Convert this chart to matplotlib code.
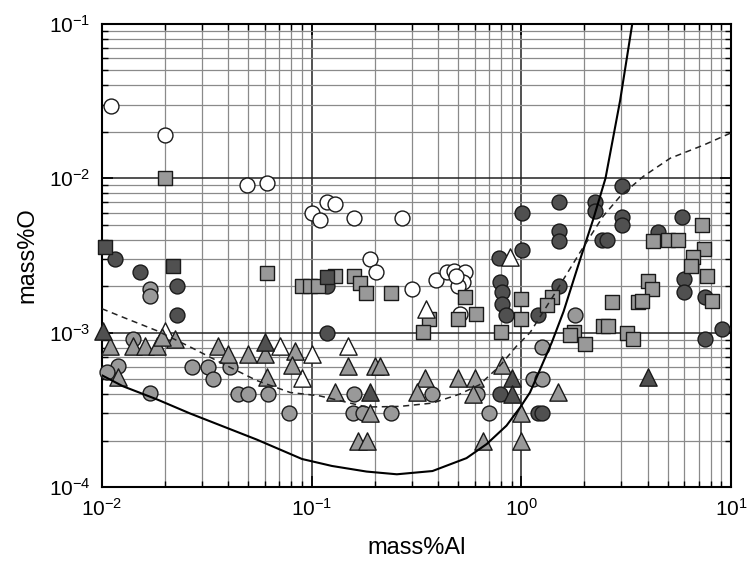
import numpy as np
import matplotlib
matplotlib.use("Agg")
import matplotlib.pyplot as plt
from matplotlib.ticker import LogLocator, NullFormatter

plt.rcParams['font.family'] = ['Liberation Sans', 'DejaVu Sans']
plt.rcParams['mathtext.fontset'] = 'custom'
plt.rcParams['mathtext.rm'] = 'Liberation Sans'
plt.rcParams['mathtext.it'] = 'Liberation Sans'
plt.rcParams['mathtext.default'] = 'regular'

# ---- data (mass%Al, mass%O) ----
white_circle_al = [0.011, 0.020, 0.049, 0.061, 0.100, 0.110, 0.119, 0.130, 0.159, 0.269,
                   0.189, 0.202, 0.300, 0.394, 0.440, 0.480, 0.536, 0.525, 0.497, 0.508, 0.490]
white_circle_o = [0.0294, 0.0191, 0.0090, 0.0093, 0.0060, 0.0054, 0.0070, 0.0068, 0.0055, 0.0055,
                  0.0030, 0.00247, 0.00192, 0.0022, 0.00247, 0.00251, 0.00247, 0.00213, 0.0020, 0.00133, 0.00233]

dark_circle_al = [0.0115, 0.0152, 0.0228, 0.0228, 0.119, 0.119, 1.01, 1.52, 1.52, 1.52,
                  2.25, 2.25, 3.03, 3.03, 3.03, 2.43, 2.55, 1.01, 0.78, 0.79,
                  0.806, 0.806, 0.843, 1.20, 1.52, 5.86, 4.50, 5.99, 5.99, 7.53,
                  9.10, 7.53, 0.79, 1.20, 1.26]
dark_circle_o = [0.0030, 0.00247, 0.0020, 0.00131, 0.0010, 0.0020, 0.0060, 0.0070, 0.00455, 0.0039,
                 0.0070, 0.0061, 0.0089, 0.0056, 0.0050, 0.0040, 0.0040, 0.00343, 0.00305, 0.00213,
                 0.00184, 0.00154, 0.00131, 0.00131, 0.0020, 0.0056, 0.0045, 0.00223, 0.00184, 0.00171,
                 0.00106, 0.00091, 0.0004, 0.0003, 0.0003]

grey_circle_al = [0.0169, 0.0169, 0.014, 0.0119, 0.0106, 0.0169, 0.0269, 0.032, 0.0338, 0.0408,
                  0.0445, 0.0497, 0.062, 0.078, 0.160, 0.157, 0.175, 0.240, 0.377, 0.613,
                  0.700, 1.26, 1.14, 1.26, 1.81]
grey_circle_o = [0.00192, 0.00174, 0.00091, 0.00061, 0.00056, 0.000405, 0.0006, 0.0006, 0.0005, 0.0006,
                 0.0004, 0.0004, 0.0004, 0.0003, 0.0004, 0.0003, 0.0003, 0.0003, 0.0004, 0.0004,
                 0.0003, 0.00081, 0.0005, 0.0005, 0.00131]

grey_square_al = [0.020, 0.061, 0.090, 0.098, 0.107, 0.130, 0.160, 0.171, 0.181, 0.240,
                  0.536, 0.497, 0.606, 0.361, 0.338, 0.800, 1.00, 1.00, 1.40, 1.32,
                  1.79, 1.71, 2.02, 2.46, 2.72, 2.60, 3.20, 3.42, 3.61, 4.03,
                  4.21, 3.77, 7.30, 4.26, 5.03, 5.60, 7.46, 6.60, 6.47, 7.70, 8.14]
grey_square_o = [0.0100, 0.00244, 0.0020, 0.0020, 0.0020, 0.00233, 0.00233, 0.0021, 0.00181, 0.00181,
                 0.00171, 0.00123, 0.00133, 0.00123, 0.00101, 0.00101, 0.00166, 0.00123, 0.00171, 0.00152,
                 0.00101, 0.00096, 0.00085, 0.00111, 0.00158, 0.00111, 0.0010, 0.00091, 0.00158, 0.00216,
                 0.00192, 0.00161, 0.0050, 0.0039, 0.0040, 0.0040, 0.0035, 0.0031, 0.0027, 0.00233, 0.00161]

dark_square_al = [0.0103, 0.0218, 0.118]
dark_square_o = [0.00358, 0.0027, 0.00229]

white_tri_al = [0.020, 0.0707, 0.100, 0.090, 0.149, 0.350, 0.880]
white_tri_o = [0.00103, 0.00082, 0.00073, 0.00051, 0.00082, 0.00142, 0.0031]

grey_tri_al = [0.0109, 0.014, 0.016, 0.0183, 0.0223, 0.0193, 0.0119, 0.0357, 0.040, 0.050,
               0.060, 0.083, 0.081, 0.061, 0.129, 0.149, 0.200, 0.211, 0.189, 0.166,
               0.183, 0.346, 0.317, 0.497, 0.600, 0.586, 0.806, 1.00, 0.655, 1.00, 1.50]
grey_tri_o = [0.00082, 0.00082, 0.00082, 0.00082, 0.00091, 0.00094, 0.00052, 0.00082, 0.00073, 0.00073,
              0.00073, 0.00076, 0.00062, 0.00052, 0.00041, 0.00061, 0.00061, 0.00061, 0.0003, 0.0002,
              0.0002, 0.00051, 0.00041, 0.00051, 0.00051, 0.0004, 0.00062, 0.0003, 0.0002, 0.0002, 0.00041]

dark_tri_al = [0.0101, 0.060, 0.189, 0.900, 0.900, 4.03]
dark_tri_o = [0.00103, 0.00087, 0.00041, 0.00051, 0.0004, 0.00052]

# equilibrium curves
solid_al = [0.010, 0.0126, 0.0183, 0.0263, 0.0548, 0.090, 0.125, 0.183, 0.255, 0.377,
            0.548, 0.684, 0.85, 0.99, 1.10, 1.23, 1.40, 1.59, 1.91, 2.20,
            2.52, 2.96, 3.38]
solid_o = [5.3e-4, 4.5e-4, 3.7e-4, 3.0e-4, 2.03e-4, 1.52e-4, 1.37e-4, 1.26e-4, 1.21e-4, 1.27e-4,
           1.54e-4, 1.9e-4, 2.5e-4, 3.3e-4, 4.1e-4, 5.8e-4, 8.7e-4, 1.37e-3, 3.0e-3, 5.4e-3,
           1.0e-2, 3.2e-2, 1.0e-1]

dashed_al = [0.010, 0.0126, 0.0183, 0.0263, 0.0377, 0.0548, 0.079, 0.109, 0.183, 0.263,
             0.377, 0.508, 0.632, 0.79, 0.95, 1.10, 1.42, 1.91, 2.46, 2.96,
             3.82, 5.13, 7.38, 10.0]
dashed_o = [1.43e-3, 1.26e-3, 1.03e-3, 8.1e-4, 6.3e-4, 4.9e-4, 4.1e-4, 3.9e-4, 3.3e-4, 3.33e-4,
            3.5e-4, 4.0e-4, 4.6e-4, 6.1e-4, 8.2e-4, 1.0e-3, 1.73e-3, 3.33e-3, 5.7e-3, 7.65e-3,
            1.03e-2, 1.35e-2, 1.64e-2, 1.97e-2]

fig = plt.figure(figsize=(7.49, 5.71), dpi=100)
ax = fig.add_axes([0.136, 0.147, 0.840, 0.811])
ax.set_xscale('log')
ax.set_yscale('log')
ax.set_xlim(1e-2, 1e1)
ax.set_ylim(1e-4, 1e-1)

# grid
ax.grid(True, which='minor', color='#8a8a8a', lw=0.9, zorder=0)
ax.grid(True, which='major', color='#222222', lw=1.1, zorder=0)
ax.set_axisbelow(True)

dark = '#505050'
light = '#999999'
edge = '#1a1a1a'
ms = 115
kw = dict(edgecolors=edge, linewidths=1.0, zorder=3, clip_on=False)
ax.scatter(white_circle_al, white_circle_o, s=ms, marker='o', facecolors='white', **kw)
ax.scatter(grey_circle_al, grey_circle_o, s=ms, marker='o', facecolors=light, **kw)
ax.scatter(dark_circle_al, dark_circle_o, s=ms, marker='o', facecolors=dark, **kw)
ax.scatter(grey_square_al, grey_square_o, s=95, marker='s', facecolors=light, **kw)
ax.scatter(dark_square_al, dark_square_o, s=95, marker='s', facecolors=dark, **kw)
ax.scatter(white_tri_al, white_tri_o, s=155, marker='^', facecolors='white', **kw)
ax.scatter(grey_tri_al, grey_tri_o, s=155, marker='^', facecolors=light, **kw)
ax.scatter(dark_tri_al, dark_tri_o, s=155, marker='^', facecolors=dark, **kw)

ax.plot(solid_al, solid_o, color='black', lw=1.5, zorder=4, solid_joinstyle='round')
ax.plot(dashed_al, dashed_o, color='#222222', lw=1.1, ls=(0, (4, 3)), zorder=4)

# ticks
ax.xaxis.set_minor_locator(LogLocator(base=10, subs=np.arange(2, 10), numticks=20))
ax.yaxis.set_minor_locator(LogLocator(base=10, subs=np.arange(2, 10), numticks=20))
ax.xaxis.set_minor_formatter(NullFormatter())
ax.yaxis.set_minor_formatter(NullFormatter())
ax.tick_params(which='both', direction='in', top=True, right=True, colors='black')
ax.tick_params(which='major', length=8, width=1.2, labelsize=15, pad=8)
ax.tick_params(which='minor', length=4, width=1.0)
for sp in ax.spines.values():
    sp.set_linewidth(1.5)

ax.set_xlabel('mass%Al', fontsize=17, labelpad=12)
ax.set_ylabel('mass%O', fontsize=17, labelpad=8)

fig.savefig('out.png', dpi=100)
